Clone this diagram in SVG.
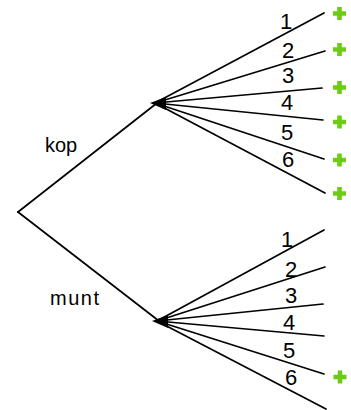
<svg xmlns="http://www.w3.org/2000/svg" xmlns:xlink="http://www.w3.org/1999/xlink" width="351" height="410" viewBox="0 0 351 410">
  <style>
    .edge { stroke: #000; stroke-width: 1.7; fill: none; stroke-linecap: round; }
    .lbl { font-family: "Liberation Sans", Arial, sans-serif; fill: #000; }
    .num { font-size: 22px; text-anchor: middle; }
    .side { font-size: 20px; }
    .hub { fill: #000; }
  </style>
  <defs>
    <!-- green plus marker for favourable outcomes -->
    <path id="plus" d="M-2.3,-6.5 h4.6 v4.2 h4.2 v4.6 h-4.2 v4.2 h-4.6 v-4.2 h-4.2 v-4.6 h4.2 z" fill="#6ccc14"/>
  </defs>
  <rect width="351" height="410" fill="#fff"/>

  <g id="connectors">
    <!-- first toss -->
    <line class="edge" x1="18" y1="212" x2="157" y2="103"/>
    <line class="edge" x1="18" y1="212" x2="159" y2="321"/>
    <!-- die after kop -->
    <line class="edge" x1="155" y1="103" x2="324" y2="13"/>
    <line class="edge" x1="155" y1="103" x2="325" y2="51"/>
    <line class="edge" x1="155" y1="103" x2="322" y2="88"/>
    <line class="edge" x1="155" y1="103" x2="323" y2="120"/>
    <line class="edge" x1="155" y1="103" x2="324" y2="159"/>
    <line class="edge" x1="155" y1="103" x2="325" y2="193"/>
    <!-- die after munt -->
    <line class="edge" x1="157" y1="321" x2="324" y2="230"/>
    <line class="edge" x1="157" y1="321" x2="325" y2="267"/>
    <line class="edge" x1="157" y1="321" x2="323" y2="304"/>
    <line class="edge" x1="157" y1="321" x2="324" y2="336"/>
    <line class="edge" x1="157" y1="321" x2="324" y2="374"/>
    <line class="edge" x1="157" y1="321" x2="326" y2="409"/>
  </g>

  <g id="root">
    <circle class="hub" cx="18" cy="212" r="1"/>
  </g>

  <g id="kop">
    <path class="hub" d="M150,103 L166,97 L166,110 Z"/>
    <text class="lbl side" x="45" y="152">kop</text>
  </g>

  <g id="munt">
    <path class="hub" d="M152,321 L168,315 L168,328 Z"/>
    <text class="lbl side" x="50" y="305" textLength="49">munt</text>
  </g>

  <g id="kop-outcomes">
    <text class="lbl num" x="286" y="29">1</text>
    <text class="lbl num" x="288" y="58">2</text>
    <text class="lbl num" x="288" y="83">3</text>
    <text class="lbl num" x="287" y="110">4</text>
    <text class="lbl num" x="287" y="140">5</text>
    <text class="lbl num" x="288" y="167">6</text>
    <use xlink:href="#plus" x="339.5" y="13.5"/>
    <use xlink:href="#plus" x="339.5" y="49.5"/>
    <use xlink:href="#plus" x="339.5" y="87.5"/>
    <use xlink:href="#plus" x="339.5" y="122"/>
    <use xlink:href="#plus" x="339.5" y="160"/>
    <use xlink:href="#plus" x="339.5" y="193.5"/>
  </g>

  <g id="munt-outcomes">
    <text class="lbl num" x="287" y="247">1</text>
    <text class="lbl num" x="291" y="277">2</text>
    <text class="lbl num" x="291" y="303">3</text>
    <text class="lbl num" x="289" y="330">4</text>
    <text class="lbl num" x="289" y="358">5</text>
    <text class="lbl num" x="291" y="385">6</text>
    <use xlink:href="#plus" x="340" y="377"/>
  </g>
</svg>
